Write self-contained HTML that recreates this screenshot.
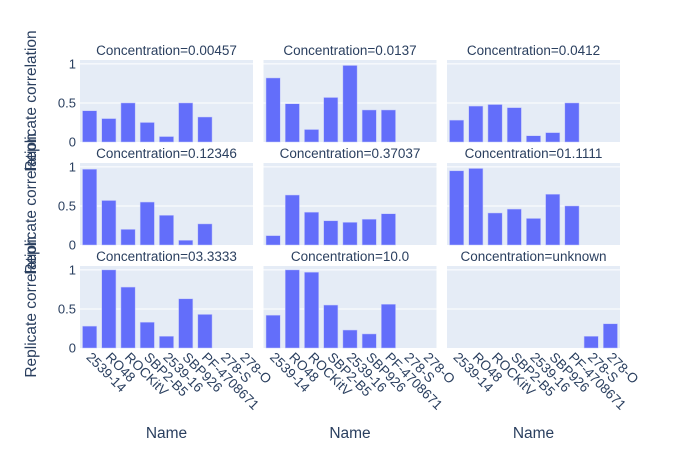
<!DOCTYPE html>
<html><head><meta charset="utf-8"><style>
body{margin:0;background:#fff}
svg text{font-family:"Liberation Sans",sans-serif;fill:#2a3f5f}
</style></head><body>
<svg id="c" width="700" height="450"></svg>
<script>
const categories=["2539-14","RO48","ROCKitV","SBP2-B5","2539-16","SBP926","PF-4708671","278-S","278-O"];
const panelTitles=["Concentration=0.00457","Concentration=0.0137","Concentration=0.0412","Concentration=0.12346","Concentration=0.37037","Concentration=01.1111","Concentration=03.3333","Concentration=10.0","Concentration=unknown"];
const v0=[0.4,0.3,0.5,0.25,0.07,0.5,0.32,null,null];
const v1=[0.82,0.49,0.16,0.57,0.98,0.41,0.41,null,null];
const v2=[0.28,0.46,0.48,0.44,0.08,0.12,0.5,null,null];
const v3=[0.97,0.57,0.2,0.55,0.38,0.06,0.27,null,null];
const v4=[0.12,0.64,0.42,0.31,0.29,0.33,0.4,null,null];
const v5=[0.95,0.98,0.41,0.46,0.34,0.65,0.5,null,null];
const v6=[0.28,1.0,0.78,0.33,0.15,0.63,0.43,null,null];
const v7=[0.42,1.0,0.97,0.55,0.23,0.18,0.56,null,null];
const v8=[null,null,null,null,null,null,null,0.15,0.31];
const yTicks=[0,0.5,1];
const yTickLabels=["0","0.5","1"];
const series=[v0,v1,v2,v3,v4,v5,v6,v7,v8];
const NS="http://www.w3.org/2000/svg";
const svg=document.getElementById('c');
const colX=[80,263.5,447],W=173,rowY=[60,163,266],H=82,yMax=1.05;
function mk(t,a,p){const e=document.createElementNS(NS,t);for(const k in a)e.setAttribute(k,a[k]);(p||svg).appendChild(e);return e;}
series.forEach((vals,i)=>{
  const r=Math.floor(i/3),c=i%3,x0=colX[c],y0=rowY[r];
  const g=mk('g',{});
  
  
  const bg=mk('rect',{x:x0,y:y0,width:W,height:H,fill:'#e5ecf6'},g);
  
  
  const ys=v=>y0+H-v/yMax*H;
  const bw=W/categories.length;
  const xs=j=>x0+bw*(j+0.5);
  yTicks.forEach((t,k)=>{
    if(t>0){const l=mk('line',{x1:x0,x2:x0+W,y1:ys(t),y2:ys(t),stroke:'#fff','stroke-width':1},g);
    
    }
    if(c===0){const tx=mk('text',{x:x0-4,y:ys(t)+4.5,'text-anchor':'end','font-size':13},g);tx.textContent=yTickLabels[k];
    
    }
  });
  vals.forEach((v,j)=>{
    if(v==null)return;
    const b=mk('rect',{x:xs(j)-bw*0.37,width:bw*0.74,y:ys(v),height:ys(0)-ys(v),fill:'#636efa',stroke:'#c5cafc','stroke-width':0.5},g);
    
    
  });
  const tt=mk('text',{x:x0+W/2,y:y0-5,'text-anchor':'middle','font-size':13.5},g);
  tt.textContent=panelTitles[i];
  
  
  if(r===2){
    categories.forEach((cat,j)=>{
      const t=mk('text',{x:0,y:0,'font-size':13.5,transform:`translate(${xs(j)-4},${y0+H+10}) rotate(45)`},g);
      t.textContent=cat;
      
      
    });
    const nt=mk('text',{x:x0+W/2,y:438,'text-anchor':'middle','font-size':15.5},g);
    nt.textContent='Name';
    
    
  }
  if(c===0){
    const yt=mk('text',{x:0,y:0,'text-anchor':'middle','font-size':15.5,transform:`translate(36,${y0+H/2}) rotate(-90)`},g);
    yt.textContent='Replicate correlation';
    
    
  }
});
</script>
</body></html>
